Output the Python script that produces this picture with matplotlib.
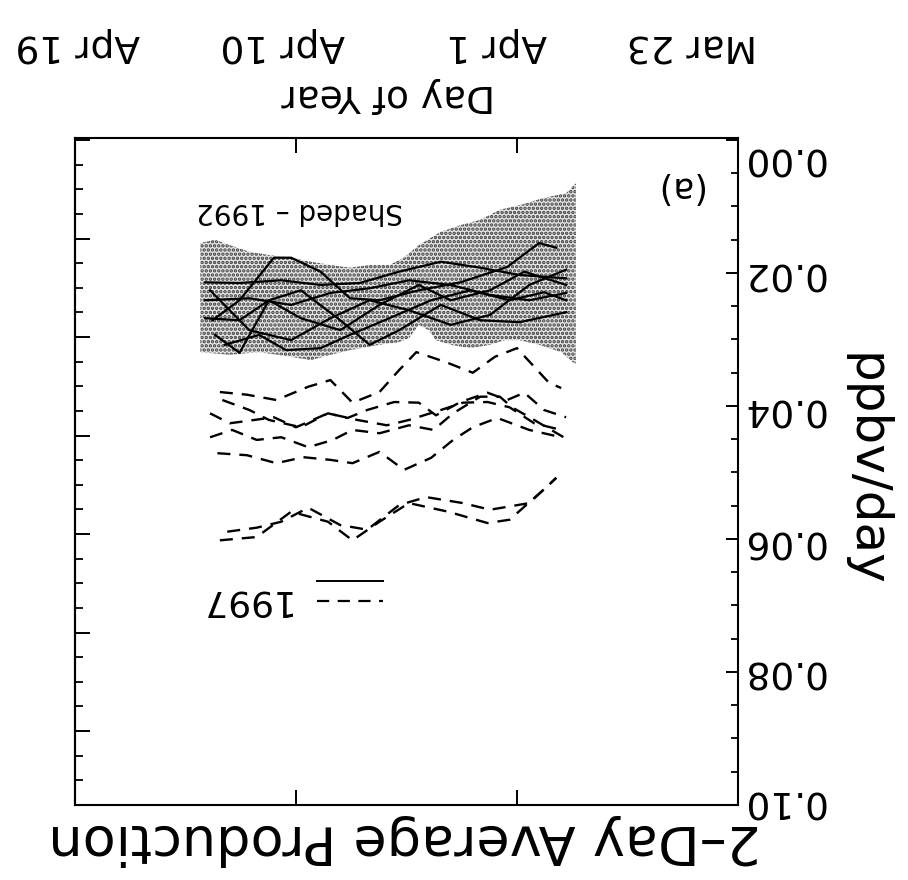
import numpy as np
import matplotlib
matplotlib.use("Agg")
import matplotlib.pyplot as plt
from matplotlib.ticker import MultipleLocator, FixedLocator, NullFormatter
from matplotlib.lines import Line2D

plt.rcParams['font.family'] = ['DejaVu Sans']
plt.rcParams['hatch.linewidth'] = 1.7

# ---------------- data (day of year, ppbv/day) ----------------
X_TICK_DAYS = [82, 91, 100, 109]
X_TICK_LABELS = ["Mar 23", "Apr 1", "Apr 10", "Apr 19"]
Y_TICK_VALUES = [0.00, 0.02, 0.04, 0.06, 0.08, 0.10]
Y_TICK_LABELS = ["0.00", "0.02", "0.04", "0.06", "0.08", "0.10"]

# 1992 shaded envelope
env_top_days = [88.6, 89.0, 89.9, 90.9, 91.7, 92.5, 93.3, 94.1, 95.0, 95.6, 96.2, 97.0,
                97.8, 98.6, 99.4, 100.2, 101.1, 101.9, 102.7, 103.3, 103.9]
env_top_vals = [0.0065, 0.0080, 0.0087, 0.0098, 0.0105, 0.0120, 0.0128, 0.0138, 0.0158,
                0.0177, 0.0188, 0.0188, 0.0192, 0.0188, 0.0183, 0.0177, 0.0173, 0.0168,
                0.0158, 0.0150, 0.0155]
env_bot_days = [88.6, 89.2, 90.1, 90.9, 91.5, 92.1, 92.9, 93.7, 94.3, 94.6, 95.0, 95.4,
                95.8, 96.6, 97.8, 98.6, 99.4, 100.2, 101.5, 102.7, 103.9]
env_bot_vals = [0.0338, 0.0319, 0.0308, 0.0301, 0.0301, 0.0308, 0.0313, 0.0308, 0.0301,
                0.0286, 0.0278, 0.0298, 0.0304, 0.0308, 0.0316, 0.0323, 0.0331, 0.0326,
                0.0319, 0.0323, 0.0319]

# solid lines (individual years)
s1_days = [103.4, 102.3, 100.9, 100.2, 99.0, 97.8, 96.6, 95.0, 93.3, 91.4, 90.1, 89.4]
s1_vals = [0.0271, 0.0241, 0.0177, 0.0177, 0.0198, 0.0238, 0.0241, 0.0226, 0.0214, 0.0191, 0.0155, 0.0162]
s2_days = [103.7, 102.3, 100.6, 99.0, 97.4, 95.8, 94.1, 92.5, 90.9, 89.0]
s2_vals = [0.0214, 0.0215, 0.0211, 0.0218, 0.0215, 0.0198, 0.0183, 0.0192, 0.0203, 0.0208]
s3_days = [103.7, 101.9, 100.2, 98.6, 97.0, 95.4, 93.7, 92.1, 90.5, 89.0]
s3_vals = [0.0241, 0.0238, 0.0248, 0.0230, 0.0223, 0.0211, 0.0218, 0.0233, 0.0241, 0.0230]
s4_days = [103.7, 102.3, 101.1, 99.8, 98.2, 96.6, 95.0, 93.7, 92.1, 90.7, 89.0]
s4_vals = [0.0268, 0.0271, 0.0241, 0.0268, 0.0286, 0.0248, 0.0218, 0.0241, 0.0226, 0.0198, 0.0218]
s5_days = [103.3, 102.3, 101.1, 99.8, 98.2, 97.0, 95.8, 94.1, 92.5, 90.9, 89.0]
s5_vals = [0.0293, 0.0320, 0.0241, 0.0226, 0.0271, 0.0308, 0.0286, 0.0248, 0.0271, 0.0274, 0.0259]
s6_days = [102.9, 101.5, 100.4, 99.0, 97.8, 96.2, 94.5, 92.9, 91.3, 89.9, 89.0]
s6_vals = [0.0308, 0.0293, 0.0316, 0.0313, 0.0293, 0.0268, 0.0241, 0.0226, 0.0241, 0.0229, 0.0241]
s7_days = [103.5, 101.9, 100.2, 98.6, 97.0, 95.4, 93.7, 92.1, 90.5, 89.0]
s7_vals = [0.0226, 0.0286, 0.0301, 0.0268, 0.0241, 0.0256, 0.0278, 0.0263, 0.0218, 0.0195]

# dashed lines (1997)
d1_days = [103.1, 102.0, 100.8, 99.5, 98.6, 97.7, 96.6, 95.8, 95.1, 93.9, 92.8, 91.9, 91.0, 89.7, 89.2]
d1_vals = [0.0379, 0.0383, 0.0391, 0.0371, 0.0361, 0.0395, 0.0379, 0.0346, 0.0319, 0.0334,
           0.0350, 0.0326, 0.0313, 0.0365, 0.0373]
d2_days = [103.0, 101.9, 101.1, 99.8, 98.7, 97.9, 97.1, 96.0, 95.0, 94.3, 93.3, 92.2, 91.4, 90.7, 89.9, 89.0]
d2_vals = [0.0391, 0.0406, 0.0421, 0.0432, 0.0411, 0.0418, 0.0406, 0.0394, 0.0395, 0.0414,
           0.0394, 0.0380, 0.0391, 0.0380, 0.0406, 0.0417]
d3_days = [103.2, 102.0, 100.8, 99.7, 98.6, 97.7, 96.6, 95.6, 94.5, 93.6, 92.8, 91.8, 90.5, 89.2]
d3_vals = [0.0471, 0.0474, 0.0486, 0.0477, 0.0481, 0.0486, 0.0469, 0.0496, 0.0478, 0.0451,
           0.0432, 0.0418, 0.0436, 0.0447]
d4_days = [103.5, 102.6, 101.6, 100.6, 99.5, 98.5, 97.7, 96.6, 95.4, 94.4, 93.6, 92.5, 91.7, 91.2, 90.3, 89.1]
d4_vals = [0.0447, 0.0436, 0.0451, 0.0447, 0.0462, 0.0451, 0.0436, 0.0441, 0.0429, 0.0436,
           0.0411, 0.0386, 0.0386, 0.0402, 0.0421, 0.0447]
d5_days = [103.5, 102.7, 101.7, 100.9, 100.0, 98.7, 97.5, 96.3, 95.4, 94.1, 93.2, 92.2, 91.3, 90.3, 89.2]
d5_vals = [0.0411, 0.0426, 0.0421, 0.0417, 0.0432, 0.0411, 0.0421, 0.0429, 0.0421, 0.0406,
           0.0395, 0.0394, 0.0402, 0.0426, 0.0436]
d6_days = [103.1, 101.6, 100.2, 98.7, 97.7, 96.6, 95.4, 93.8, 92.2, 91.3, 89.8, 89.4]
d6_vals = [0.0602, 0.0597, 0.0559, 0.0574, 0.0602, 0.0574, 0.0546, 0.0559, 0.0576, 0.0571, 0.0522, 0.0508]
d7_days = [102.8, 101.6, 100.6, 99.5, 98.2, 97.1, 95.8, 94.7, 93.2, 92.1, 90.5, 89.4]
d7_vals = [0.0589, 0.0583, 0.0574, 0.0553, 0.0579, 0.0586, 0.0549, 0.0537, 0.0546, 0.0556, 0.0546, 0.0508]

solid_series = [(s1_days, s1_vals), (s2_days, s2_vals), (s3_days, s3_vals), (s4_days, s4_vals),
                (s5_days, s5_vals), (s6_days, s6_vals), (s7_days, s7_vals)]
dashed_series = [(d1_days, d1_vals), (d2_days, d2_vals), (d3_days, d3_vals), (d4_days, d4_vals),
                 (d5_days, d5_vals), (d6_days, d6_vals), (d7_days, d7_vals)]

# ---------------- figure ----------------
W, H = 908, 880
fig = plt.figure(figsize=(W / 100, H / 100), dpi=100)
ax = fig.add_axes([75 / W, 75 / H, 663 / W, 667 / H])

# the whole chart is shown turned upside down
ax.set_xlim(109, 82)
ax.set_ylim(0.10, -0.0003)

poly_x = list(env_top_days) + list(env_bot_days[::-1])
poly_y = list(env_top_vals) + list(env_bot_vals[::-1])
ax.fill(poly_x, poly_y, facecolor='#e6e6e6', edgecolor='#3a3a3a', hatch='....',
        linewidth=0, zorder=1)

for dx, dy in solid_series:
    ax.plot(dx, dy, color='black', lw=1.6, zorder=3)
for dx, dy in dashed_series:
    ax.plot(dx, dy, color='black', lw=1.7, ls=(0, (5.5, 3.8)), zorder=3)

# spines / ticks
for sp in ax.spines.values():
    sp.set_linewidth(1.5)
ax.xaxis.set_major_locator(FixedLocator(X_TICK_DAYS[1:3]))
ax.xaxis.set_major_formatter(NullFormatter())
ax.tick_params(axis='x', which='major', direction='in', top=True, bottom=True,
               length=11, width=1.4, labelbottom=False, labeltop=False)
ax.yaxis.set_major_locator(MultipleLocator(0.02))
ax.yaxis.set_minor_locator(MultipleLocator(0.005))
ax.yaxis.set_major_formatter(NullFormatter())
ax.tick_params(axis='y', which='major', direction='in', left=False, right=True,
               length=9, width=1.4, labelleft=False, labelright=False)
ax.tick_params(axis='y', which='minor', direction='in', left=False, right=True,
               length=5, width=1.3)

sec = ax.secondary_yaxis('left')
sec.yaxis.set_major_locator(MultipleLocator(0.1 / 27 * 4))
sec.yaxis.set_minor_locator(MultipleLocator(0.1 / 27))
sec.yaxis.set_major_formatter(NullFormatter())
sec.tick_params(axis='y', which='major', direction='in', length=11, width=1.4)
sec.tick_params(axis='y', which='minor', direction='in', length=6, width=1.3)
sec.spines['left'].set_linewidth(1.5)

# legend (keys only; label drawn as text)
handles = [Line2D([], [], color='black', lw=1.4),
           Line2D([], [], color='black', lw=1.6, ls=(0, (5.5, 3.8)))]
ax.legend(handles=handles, labels=['', ''], loc='center',
          bbox_to_anchor=((350 - 75) / 663, (805 - 592) / 667),
          frameon=False, fontsize=12, handlelength=4.0, labelspacing=0.15,
          handletextpad=0, borderpad=0)

FS = 27
def ftext(px, py, s, size=FS, rot=180):
    fig.text(px / W, 1 - py / H, s, fontsize=size, rotation=rot,
             ha='center', va='center')

x_label_px = [692, 497, 283, 78]
for lab, px in zip(X_TICK_LABELS, x_label_px):
    ftext(px, 45, lab)
ftext(388, 95, "Day of Year")

y_label_py = [157, 272, 408, 540, 670, 800]
for lab, py in zip(Y_TICK_LABELS, y_label_py):
    ftext(783, py, lab)
ftext(866, 470, "ppbv/day", size=36, rot=270)
ftext(405, 840, "2–Day Average Production", size=39)

ftext(300, 211, "Shaded – 1992", size=20)
ftext(678, 187, "(a)", size=25)
ftext(243, 600, "1997", size=26)

fig.savefig("out.png", dpi=100)
